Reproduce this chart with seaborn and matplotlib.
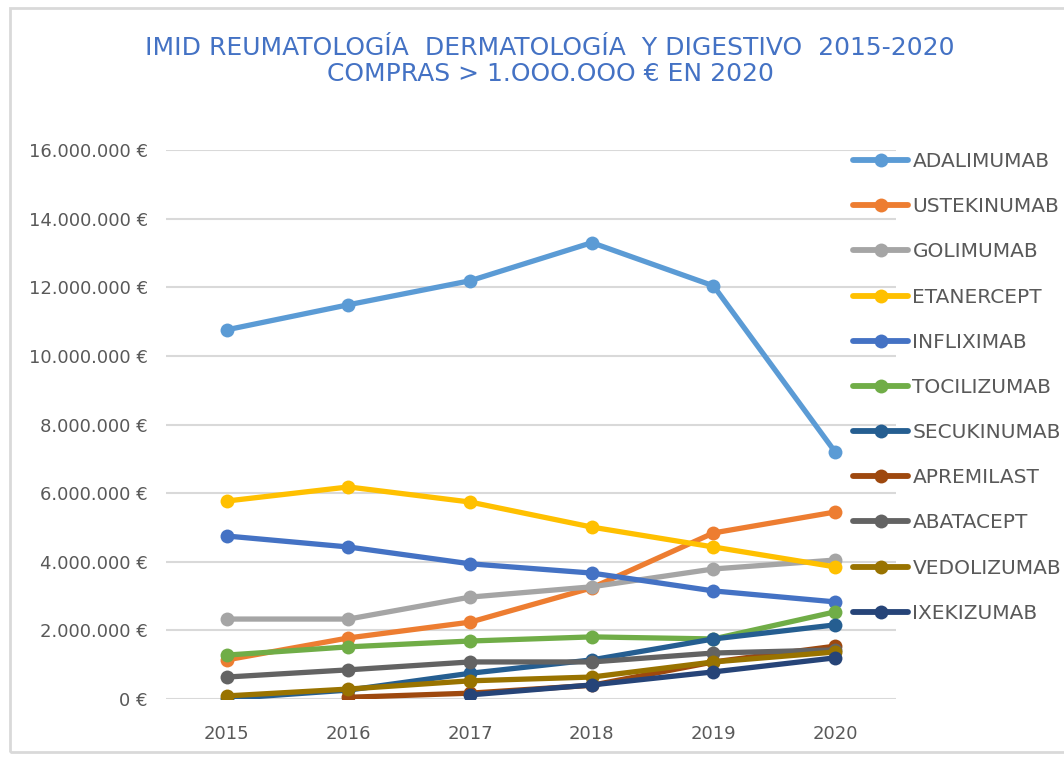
import numpy as np
import pandas as pd
import matplotlib
matplotlib.use("Agg")
import matplotlib.pyplot as plt
import seaborn as sns
from matplotlib.ticker import FuncFormatter
from matplotlib.patches import Rectangle

years = [2015, 2016, 2017, 2018, 2019, 2020]

drugs = ["ADALIMUMAB", "USTEKINUMAB", "GOLIMUMAB", "ETANERCEPT", "INFLIXIMAB",
         "TOCILIZUMAB", "SECUKINUMAB", "APREMILAST", "ABATACEPT", "VEDOLIZUMAB",
         "IXEKIZUMAB"]

adalimumab  = [10760000, 11490000, 12190000, 13300000, 12040000, 7200000]
ustekinumab = [1140000, 1780000, 2240000, 3240000, 4840000, 5450000]
golimumab   = [2330000, 2330000, 2970000, 3270000, 3790000, 4050000]
etanercept  = [5770000, 6180000, 5740000, 5010000, 4430000, 3850000]
infliximab  = [4750000, 4430000, 3940000, 3670000, 3150000, 2830000]
tocilizumab = [1280000, 1520000, 1690000, 1810000, 1750000, 2540000]
secukinumab = [10000, 260000, 750000, 1140000, 1750000, 2160000]
apremilast  = [np.nan, 50000, 170000, 400000, 1080000, 1540000]
abatacept   = [640000, 850000, 1080000, 1080000, 1340000, 1430000]
vedolizumab = [90000, 290000, 530000, 640000, 1080000, 1370000]
ixekizumab  = [np.nan, np.nan, 120000, 410000, 790000, 1200000]

series = [adalimumab, ustekinumab, golimumab, etanercept, infliximab,
          tocilizumab, secukinumab, apremilast, abatacept, vedolizumab,
          ixekizumab]

colors = ["#5B9BD5", "#ED7D31", "#A5A5A5", "#FFC000", "#4472C4", "#70AD47",
          "#255E91", "#9E480E", "#636363", "#997300", "#264478"]

yticks = [0, 2000000, 4000000, 6000000, 8000000, 10000000, 12000000,
          14000000, 16000000]

title = "IMID REUMATOLOGÍA  DERMATOLOGÍA  Y DIGESTIVO  2015-2020\nCOMPRAS > 1.OOO.OOO € EN 2020"

rows = []
for d, vals in zip(drugs, series):
    for y, v in zip(years, vals):
        rows.append({"Año": y, "Compras": v, "Fármaco": d})
df = pd.DataFrame(rows).dropna()

sns.set_theme(style="white")
plt.rcParams['font.family'] = ['DejaVu Sans']

W, H = 1064, 757
fig = plt.figure(figsize=(W / 100, H / 100), dpi=100)
fig.patch.set_facecolor("white")
ax = fig.add_axes([166 / W, 1 - 699 / H, 730 / W, 549 / H])

# chart border
fig.add_artist(Rectangle((10 / W, 5 / H), 1.0, 1 - 13 / H, transform=fig.transFigure,
                         fill=False, edgecolor="#D9D9D9", linewidth=2.0))

palette = dict(zip(drugs, colors))
sns.lineplot(data=df, x="Año", y="Compras", hue="Fármaco", hue_order=drugs,
             palette=palette, marker="o", markersize=10, markeredgewidth=0,
             linewidth=3.8, ax=ax, legend=True, sort=False)

ax.set_xlim(2014.5, 2020.5)
ax.set_ylim(0, 16000000)
ax.set_yticks(yticks)
ax.set_xticks(years)
ax.yaxis.set_major_formatter(FuncFormatter(lambda v, p: f"{int(v):,}".replace(",", ".") + " €"))
ax.grid(axis="y", color="#D9D9D9", linewidth=1.5)
ax.set_axisbelow(True)
for s in ax.spines.values():
    s.set_visible(False)
ax.set_xlabel("")
ax.set_ylabel("")
ax.tick_params(axis="both", length=0, colors="#595959")
for lab in ax.get_yticklabels():
    lab.set_fontsize(13)
    lab.set_color("#595959")
ax.tick_params(axis="y", pad=13)
ax.tick_params(axis="x", pad=19)
for lab in ax.get_xticklabels():
    lab.set_fontsize(13)
    lab.set_color("#595959")

handles, labels = ax.get_legend_handles_labels()
for h in handles:
    h.set_linewidth(4.2)
    h.set_markersize(10)
leg = ax.legend(handles, labels, loc="upper left",
                bbox_to_anchor=(845 / W, 1 - 144 / H), bbox_transform=fig.transFigure,
                frameon=False, fontsize=14.5, handlelength=2.75, labelspacing=1.3,
                handletextpad=0.2, borderaxespad=0)
for t in leg.get_texts():
    t.set_color("#595959")

fig.text(550 / W, 1 - 61 / H, title, ha="center", va="center", fontsize=18,
         color="#4472C4", linespacing=1.15)

fig.savefig("out.png", dpi=100, facecolor="white")
